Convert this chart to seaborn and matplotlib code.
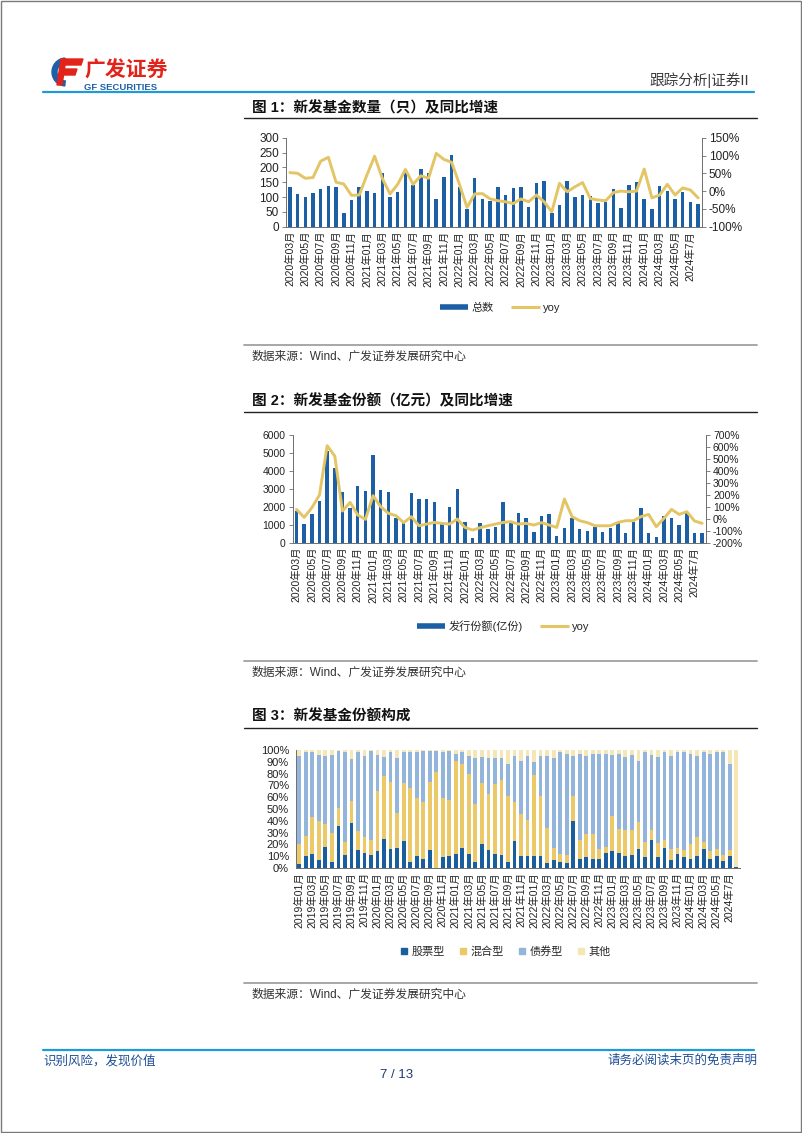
import matplotlib
matplotlib.use('Agg')
import matplotlib.pyplot as plt
import numpy as np
import pandas as pd
import seaborn as sns
from matplotlib.lines import Line2D
from matplotlib.patches import Polygon, Rectangle, Wedge
from matplotlib.ticker import FuncFormatter

# ---- data: fig 1 / fig 2 (monthly, 2020-03 .. 2024-08) ----
MONTHS_A = [f'{y}年{m:02d}月' for y in range(2020, 2025) for m in range(1, 13)][2:54] + ['2024年7月', '2024年8月']

FUND_COUNT = [133, 110, 99, 112, 126, 137, 133, 45, 90, 133,
              120, 115, 182, 100, 116, 180, 140, 195, 180, 94,
              169, 242, 135, 60, 163, 93, 87, 133, 106, 130,
              135, 65, 146, 154, 45, 73, 155, 101, 107, 103,
              81, 84, 127, 64, 141, 152, 94, 60, 137, 120,
              94, 118, 82, 77]
COUNT_YOY = [52, 50, 36, 38, 84, 95, 25, 20, -12, -11,
             45, 98, 36, -8, 19, 61, 19, 43, 36, 106,
             89, 81, 20, -46, -8, -7, -22, -27, -30, -35,
             -22, -30, -11, -30, -58, 22, -2, 12, 24, -21,
             -25, -27, -4, 0, -2, 0, 62, -19, -11, 19,
             -11, 9, 3, -19]

FUND_SHARE = [1770, 1020, 1580, 2330, 5120, 4190, 2850, 1920, 3180, 2890,
              4900, 2940, 2810, 1360, 1120, 2790, 2420, 2420, 2250, 1040,
              2010, 2980, 1140, 280, 1120, 760, 890, 2250, 1230, 1680,
              1380, 580, 1490, 1620, 370, 840, 1400, 745, 670, 890,
              580, 800, 1080, 520, 1170, 1920, 560, 340, 1510, 1400,
              990, 1730, 520, 520]
SHARE_YOY = [79, 12, 93, 200, 613, 526, 65, 138, 32, -4,
             194, 102, 46, 26, -32, 18, -58, -44, -30, -38,
             -44, -2, -72, -94, -74, -58, -44, -30, -24, -44,
             -38, -52, -32, -52, -72, 166, 18, -16, -32, -58,
             -58, -58, -30, -16, -16, 18, 37, -66, 4, 79,
             37, 60, -18, -38]

# ---- data: fig 3 (monthly, 2019-01 .. 2024-08), % of issuance ----
MONTHS_B = [f'{y}年{m:02d}月' for y in range(2019, 2025) for m in range(1, 13)][:66] + ['2024年7月', '2024年8月']
KINDS = ['股票型', '混合型', '债券型', '其他']
STOCK = [3, 10, 12, 7, 18, 5, 36, 11, 38, 15, 13, 11, 14, 25, 16, 17, 23, 5, 10, 8,
         15, 0, 9, 10, 12, 17, 12, 5, 20, 15, 12, 11, 5, 23, 10, 10, 10, 10, 4, 7,
         5, 4, 40, 8, 9, 8, 8, 13, 14, 13, 10, 11, 16, 9, 24, 9, 17, 7, 12, 9,
         8, 10, 16, 8, 10, 6, 10, 1]
MIXED = [17, 17, 31, 33, 19, 25, 15, 11, 19, 16, 13, 13, 51, 53, 57, 30, 49, 63, 49, 48,
         58, 81, 50, 48, 79, 71, 68, 49, 52, 48, 59, 64, 56, 33, 36, 31, 69, 51, 30, 10,
         7, 7, 21, 16, 20, 21, 8, 5, 30, 20, 22, 21, 23, 13, 8, 12, 7, 9, 5, 6,
         12, 16, 6, 6, 6, 5, 5, 0]
BOND = [75, 71, 55, 56, 58, 66, 48, 76, 35, 67, 69, 75, 31, 16, 25, 46, 26, 30, 39, 43,
        26, 18, 39, 41, 6, 10, 15, 39, 22, 30, 22, 18, 27, 39, 45, 54, 11, 34, 61, 76,
        86, 86, 34, 73, 66, 68, 81, 79, 52, 64, 62, 64, 52, 76, 64, 73, 74, 79, 81, 83,
        77, 69, 76, 83, 82, 87, 73, 0]
OTHER = [5, 2, 2, 4, 5, 4, 1, 2, 8, 2, 5, 1, 4, 6, 2, 7, 2, 2, 2, 1,
         1, 1, 2, 1, 3, 2, 5, 7, 6, 7, 7, 7, 12, 5, 9, 5, 10, 5, 5, 7,
         2, 3, 5, 3, 5, 3, 3, 3, 4, 3, 6, 4, 9, 2, 4, 6, 2, 5, 2, 2,
         3, 5, 2, 3, 2, 2, 12, 99]

BLUE = '#1c5fa5'
GOLD = '#e3c565'
KIND_COLORS = {'股票型': '#1b5e9e', '混合型': '#ebc868', '债券型': '#93b5db', '其他': '#f5e6b5'}
SPINE = '#6e6e6e'
W, H = 802, 1133


def rect(left, top, right, bottom):
    return [left / W, 1 - bottom / H, (right - left) / W, (bottom - top) / H]


def style_axis(ax, n, labels, fs):
    ax.set_xlim(-0.5, n - 0.5)
    ax.set_xticks(np.arange(0, n, 2))
    ax.set_xticklabels(labels[::2], rotation=90, fontsize=7.5, color='#222222')
    ax.set_xticks(np.arange(-0.5, n, 1), minor=True)
    ax.tick_params(axis='x', which='major', length=0, pad=3)
    ax.tick_params(axis='x', which='minor', length=3, width=0.6, color=SPINE)
    ax.tick_params(axis='y', length=3, width=0.6, color=SPINE, labelsize=fs, labelcolor='#222222', pad=2)
    ax.set_xlabel('')
    ax.set_ylabel('')
    for side in ['top', 'right']:
        ax.spines[side].set_visible(False)
    for side in ['left', 'bottom']:
        ax.spines[side].set_color(SPINE)
        ax.spines[side].set_linewidth(0.7)


def bar_line(fig, box, bars, yoy, ylim, ystep, rlim, rstep, fs):
    n = len(MONTHS_A)
    ax = fig.add_axes(box)
    df = pd.DataFrame({'month': MONTHS_A, 'value': bars, 'yoy': yoy})
    sns.barplot(data=df, x='month', y='value', ax=ax, color=BLUE, saturation=1, width=0.45, linewidth=0)
    ax2 = ax.twinx()
    sns.lineplot(x=np.arange(n), y=df['yoy'], ax=ax2, color=GOLD, linewidth=2.1)
    style_axis(ax, n, MONTHS_A, fs)
    ax.set_ylim(*ylim)
    ax.set_yticks(np.arange(ylim[0], ylim[1] + 1, ystep))
    ax2.set_ylim(*rlim)
    ax2.set_yticks(np.arange(rlim[0], rlim[1] + 1, rstep))
    ax2.yaxis.set_major_formatter(FuncFormatter(lambda v, _: f'{int(v)}%'))
    ax2.tick_params(axis='y', length=3, width=0.6, color=SPINE, labelsize=fs, labelcolor='#222222', pad=2)
    ax2.set_ylabel('')
    for side in ['top', 'left', 'bottom']:
        ax2.spines[side].set_visible(False)
    ax2.spines['right'].set_color(SPINE)
    ax2.spines['right'].set_linewidth(0.7)
    return ax


sns.set_style('white')
plt.rcParams['font.family'] = ['Liberation Sans', 'Noto Sans CJK SC']
plt.rcParams['axes.unicode_minus'] = False

fig = plt.figure(figsize=(W / 100, H / 100), dpi=100)

# page layer in pixel coordinates
page = fig.add_axes([0, 0, 1, 1])
page.set_xlim(0, W)
page.set_ylim(H, 0)
page.axis('off')
page.add_patch(Rectangle((0.5, 0.5), W - 1.5, H - 1.5, fill=False, edgecolor='#7a7a7a', linewidth=1))

# logo
page.add_patch(Wedge((66, 72), 14, 95, 265, width=5, color='#1f5fa8'))
page.add_patch(Polygon([(63, 59), (83, 59), (81, 65), (61, 65)], color='#e2231a'))
page.add_patch(Polygon([(61, 69), (77, 69), (75, 75), (59, 75)], color='#e2231a'))
page.add_patch(Polygon([(61, 59), (66, 59), (62, 85), (57, 85)], color='#e2231a'))
page.text(84, 71, '广发证券', fontsize=15, fontweight='bold', color='#e2231a', va='center')
page.text(84, 87, 'GF SECURITIES', fontsize=6.8, fontweight='bold', color='#1f5fa8', va='center')
page.text(749, 80, '跟踪分析|证券II', fontsize=10.5, color='#3a3a3a', ha='right', va='center')
page.plot([43, 754], [92, 92], color='#1e9ad6', linewidth=1.6)

# footer
page.plot([43, 754], [1050, 1050], color='#1e9ad6', linewidth=1.6)
page.text(43, 1061, '识别风险，发现价值', fontsize=9, color='#1f4e96', va='center')
page.text(757, 1061, '请务必阅读末页的免责声明', fontsize=9, color='#1f4e96', ha='right', va='center')
page.text(397, 1075, '7 / 13', fontsize=9.5, color='#1f3d6e', ha='center', va='center')

SOURCE = '数据来源：Wind、广发证券发展研究中心'
TITLES = [('图 1：新发基金数量（只）及同比增速', 108, 118, 345, 357),
          ('图 2：新发基金份额（亿元）及同比增速', 401, 411.7, 661, 673),
          ('图 3：新发基金份额构成', 717, 728, 983, 995)]
for title, ty, tl, sl, sy in TITLES:
    page.text(252, ty, title, fontsize=10.5, fontweight='bold', color='#111111', va='center')
    page.plot([244, 757], [tl, tl], color='#222222', linewidth=1.0)
    page.plot([244, 757], [sl, sl], color='#a0a0a0', linewidth=1.3)
    page.text(252, sy, SOURCE, fontsize=8.5, color='#333333', va='center')

# fig 1
bar_line(fig, rect(286, 137.7, 702, 226.7), FUND_COUNT, COUNT_YOY, (0, 300), 50, (-100, 150), 50, 8.5)
leg_bar = Line2D([], [], color=BLUE, linewidth=4, solid_capstyle='butt')
leg_line = Line2D([], [], color=GOLD, linewidth=2.2, solid_capstyle='butt')
fig.legend([leg_bar, leg_line], ['总数', 'yoy'], loc='center', bbox_to_anchor=(500 / W, 1 - 308 / H),
           ncol=2, frameon=False, fontsize=8, handlelength=2.6, handletextpad=0.3, columnspacing=1.5)

# fig 2
bar_line(fig, rect(292.7, 435.3, 706, 542.7), FUND_SHARE, SHARE_YOY, (0, 6000), 1000, (-200, 700), 100, 7.5)
fig.legend([leg_bar, leg_line], ['发行份额(亿份)', 'yoy'], loc='center', bbox_to_anchor=(503 / W, 1 - 626 / H),
           ncol=2, frameon=False, fontsize=8, handlelength=2.6, handletextpad=0.3, columnspacing=1.5)

# fig 3: stacked shares drawn as overlapping cumulative bars
n3 = len(MONTHS_B)
shares = {'股票型': STOCK, '混合型': MIXED, '债券型': BOND, '其他': OTHER}
tops = np.cumsum(np.array([shares[k] for k in KINDS]), axis=0)
long = pd.DataFrame({
    'month': np.tile(MONTHS_B, len(KINDS)),
    'kind': np.repeat(KINDS, n3),
    'top': tops.ravel(),
})
ax3 = fig.add_axes(rect(296, 750, 739.5, 868))
sns.barplot(data=long, x='month', y='top', hue='kind', hue_order=KINDS[::-1], dodge=False,
            palette=KIND_COLORS, saturation=1, width=0.58, linewidth=0, ax=ax3, legend=False)
style_axis(ax3, n3, MONTHS_B, 8)
ax3.set_ylim(0, 100)
ax3.set_yticks(np.arange(0, 101, 10))
ax3.yaxis.set_major_formatter(FuncFormatter(lambda v, _: f'{int(v)}%'))
handles3 = [Line2D([], [], marker='s', linestyle='none', markersize=4, color=KIND_COLORS[k]) for k in KINDS]
fig.legend(handles3, KINDS, loc='center', bbox_to_anchor=(505 / W, 1 - 951 / H),
           ncol=4, frameon=False, fontsize=8, handlelength=0.8, handletextpad=0.3, columnspacing=1.2)

fig.savefig('out.png', dpi=100)
